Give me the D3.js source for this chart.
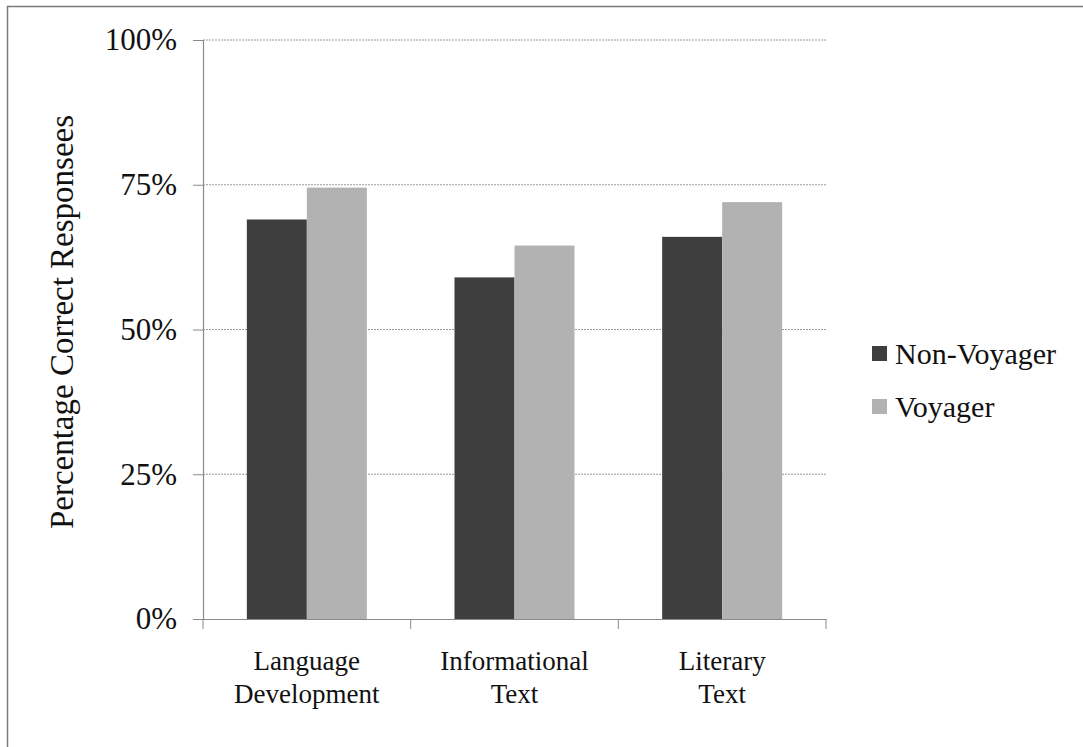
<!DOCTYPE html>
<html><head><meta charset="utf-8">
<script src="https://cdn.jsdelivr.net/npm/d3@7"></script>
<style>body{margin:0;background:#fff}svg{display:block}svg text{font-family:'Liberation Serif','Times New Roman',serif;fill:#111}</style>
</head><body>
<svg id="c" width="1083" height="747"></svg>
<script>
const categories = [["Language","Development"],["Informational","Text"],["Literary","Text"]];
const categoryKeys = ["Language Development","Informational Text","Literary Text"];
const seriesNames = ["Non-Voyager","Voyager"];
const nonVoyager = [69, 59, 66];
const voyager = [74.5, 64.5, 72];
const yTicks = [0, 25, 50, 75, 100];
const yTitle = "Percentage Correct Responsees";

(function(){
const svg = d3.select("#c");
const font = "'Liberation Serif','Times New Roman',serif";
const colors = ["#3e3e3e", "#b2b2b2"];

svg.append("path").attr("d","M7.5,747 V6.5 H1083")
  .attr("fill","none").attr("stroke","#7a7a7a").attr("stroke-width",1.5);

const pl = 203, pr = 826, pt = 40, pb = 619;
const y = d3.scaleLinear().domain([0,100]).range([pb, pt]);
const x0 = d3.scaleBand().domain(categoryKeys).range([pl, pr]).paddingInner(0).paddingOuter(0);
const groupW = 120;
const x1 = d3.scaleBand().domain(seriesNames).range([0, groupW]);

svg.append("g").selectAll("line").data(yTicks.filter(d=>d>0)).join("line")
  .attr("x1", pl).attr("x2", pr).attr("y1", d=>y(d)).attr("y2", d=>y(d))
  .attr("stroke","#9a9a9a").attr("stroke-width",1).attr("stroke-dasharray","2,1");

const yAxis = d3.axisLeft(y).tickValues(yTicks).tickFormat(d=>d+"%").tickSize(10).tickPadding(16);
const gy = svg.append("g").attr("transform",`translate(${pl},0)`).call(yAxis);
gy.attr("font-family", font);
gy.select(".domain").attr("stroke","#8a8a8a").attr("stroke-width",1.2);
gy.selectAll(".tick line").attr("stroke","#8a8a8a");
gy.selectAll(".tick text").style("font-family",font).attr("font-size",31).attr("fill","#111");

const data = categoryKeys.map((k,i)=>({k, vals:[nonVoyager[i], voyager[i]]}));
const groups = svg.append("g").selectAll("g").data(data).join("g")
  .attr("transform", d=>`translate(${x0(d.k) + (x0.bandwidth()-groupW)/2},0)`);
groups.selectAll("rect").data(d=>d.vals.map((v,j)=>({s:seriesNames[j], v, j}))).join("rect")
  .attr("x", d=>x1(d.s)).attr("width", x1.bandwidth())
  .attr("y", d=>y(d.v)).attr("height", d=>y(0)-y(d.v))
  .attr("fill", d=>colors[d.j]);

const xAxis = d3.axisBottom(x0).tickSize(0).tickFormat("");
const gx = svg.append("g").attr("transform",`translate(0,${pb})`).call(xAxis);
gx.select(".domain").attr("stroke","#8a8a8a").attr("stroke-width",1.2);
const bounds = categoryKeys.map(k=>x0(k)).concat([x0(categoryKeys[2])+x0.bandwidth()]);
svg.append("g").selectAll("line").data(bounds).join("line")
  .attr("x1",d=>d).attr("x2",d=>d).attr("y1",pb).attr("y2",pb+10)
  .attr("stroke","#8a8a8a");

const lab = svg.append("g").selectAll("text").data(categories).join("text")
  .style("font-family",font).attr("font-size",27).attr("text-anchor","middle")
  .attr("transform",(d,i)=>`translate(${x0(categoryKeys[i])+x0.bandwidth()/2},0)`);
lab.selectAll("tspan").data(d=>d).join("tspan").attr("x",0).attr("y",(d,i)=>670+i*33).text(d=>d);

svg.append("text").attr("transform","translate(73,322) rotate(-90)")
  .attr("text-anchor","middle").style("font-family",font).attr("font-size",33)
  .text(yTitle);

const lg = svg.append("g").selectAll("g").data(seriesNames).join("g")
  .attr("transform",(d,i)=>`translate(872,${364+i*53})`);
lg.append("rect").attr("x",0).attr("y",-18).attr("width",15).attr("height",15).attr("fill",(d,i)=>colors[i]);
lg.append("text").attr("x",23).attr("y",0).style("font-family",font).attr("font-size",30).text(d=>d);
})();
</script>
</body></html>
